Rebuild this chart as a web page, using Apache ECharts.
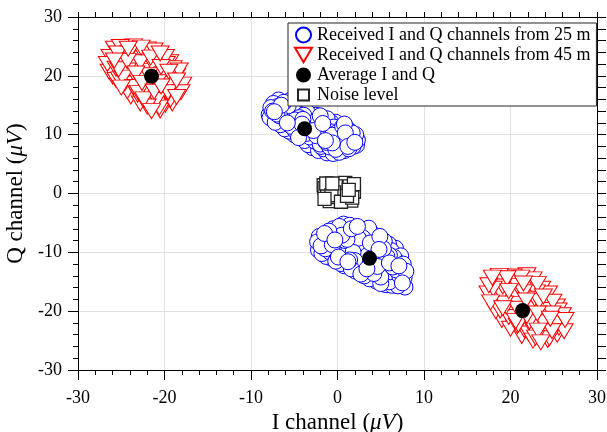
<!DOCTYPE html>
<html>
<head>
<meta charset="utf-8">
<script src="https://cdn.jsdelivr.net/npm/echarts@6/dist/echarts.min.js"></script>
<style>
html,body{margin:0;padding:0;background:#fff;}
#c{width:607px;height:432px;}
</style>
</head>
<body>
<div id="c"></div>
<script>
const seriesNames = [
  'Received I and Q channels from 25 m',
  'Received I and Q channels from 45 m',
  'Average I and Q',
  'Noise level'
];
const axisTicks = [-30, -20, -10, 0, 10, 20, 30];

const blue25Upper = [
[-7.9,13.4],[-7.7,14.6],[-7.8,12.9],[-7.4,15.3],[-7.3,13.9],[-7.2,12.1],[-6.9,14.8],[-6.8,15.9],[-6.7,13.2],[-6.6,11.7],
[-6.4,12.6],[-6.3,14.3],[-6.2,15.5],[-6.1,11.0],[-5.9,13.7],[-5.8,12.0],[-5.7,14.9],[-5.6,10.6],[-5.4,13.1],[-5.3,11.4],
[-5.2,14.4],[-5.1,15.3],[-5.0,10.0],[-4.9,12.5],[-4.8,13.8],[-4.7,11.0],[-4.5,9.5],[-4.4,12.9],[-4.3,14.2],[-4.2,10.4],
[-4.1,11.8],[-3.9,13.3],[-3.8,9.0],[-3.7,12.4],[-3.6,10.2],[-3.5,13.8],[-3.4,8.3],[-3.3,11.5],[-3.2,9.6],[-3.0,12.9],
[-2.9,7.8],[-2.8,10.7],[-2.7,12.1],[-2.6,8.9],[-2.5,13.3],[-2.4,9.8],[-2.3,11.5],[-2.2,7.3],[-2.1,12.7],[-2.0,8.4],
[-1.9,10.6],[-1.8,9.3],[-1.7,11.9],[-1.6,7.6],[-1.5,10.1],[-1.4,12.3],[-1.3,8.7],[-1.2,6.9],[-1.1,11.2],[-1.0,9.6],
[-0.9,7.9],[-0.8,10.5],[-0.7,12.0],[-0.6,8.6],[-0.5,6.8],[-0.4,11.3],[-0.3,9.4],[-0.2,7.5],[-0.1,10.3],[0.0,8.3],
[0.1,11.6],[0.2,7.0],[0.3,9.7],[0.4,10.8],[0.5,8.0],[0.6,11.4],[0.7,9.1],[0.8,7.3],[0.9,10.3],[1.0,8.5],
[1.1,11.0],[1.2,9.6],[1.3,7.6],[1.4,10.6],[1.5,8.3],[1.6,9.2],[1.7,10.3],[1.8,8.0],[1.9,9.5],[2.0,8.7],
[2.1,10.0],[2.3,9.1],[2.2,8.2],
[-7.0,13.5],[-6.0,13.0],[-5.5,12.3],[-4.6,12.0],[-4.0,12.6],[-3.0,11.0],[-2.2,10.0],[-1.4,9.0],[-0.6,9.9],[0.2,9.0],
[1.0,9.9],[-6.5,15.0],[-5.5,15.8],[-4.6,15.0],[-3.8,14.6],[-7.5,14.0],[-4.9,10.7],[-3.9,9.7],[-2.9,9.0],[-1.9,8.0],
[-0.9,7.2],[0.3,7.7],[1.2,8.0],[-2.0,13.2],[-1.2,12.7],[-0.2,12.1],[0.8,11.8]
];

const blue25Lower = [
[-2.3,-8.2],[-2.2,-9.6],[-2.1,-7.3],[-1.9,-8.9],[-1.8,-10.2],[-1.7,-7.8],[-1.5,-6.8],[-1.4,-9.4],[-1.3,-10.7],[-1.2,-8.3],
[-1.0,-6.4],[-0.9,-9.9],[-0.8,-7.5],[-0.7,-11.0],[-0.6,-8.7],[-0.5,-6.0],[-0.4,-10.3],[-0.3,-7.9],[-0.2,-11.5],[-0.1,-9.2],
[0.0,-6.7],[0.1,-10.8],[0.2,-5.6],[0.3,-8.4],[0.4,-11.9],[0.5,-7.1],[0.6,-9.7],[0.7,-5.2],[0.8,-12.3],[0.9,-8.0],
[1.0,-10.6],[1.1,-6.3],[1.2,-11.6],[1.3,-9.0],[1.4,-5.4],[1.5,-7.5],[1.6,-12.8],[1.7,-10.2],[1.8,-8.6],[1.9,-6.4],
[2.0,-11.4],[2.1,-13.2],[2.2,-9.5],[2.3,-5.6],[2.4,-7.6],[2.5,-12.2],[2.6,-10.4],[2.7,-13.7],[2.8,-8.3],[2.9,-6.2],
[3.0,-11.3],[3.1,-14.0],[3.2,-9.4],[3.3,-7.1],[3.4,-12.8],[3.5,-10.5],[3.6,-5.9],[3.7,-14.5],[3.8,-8.4],[3.9,-12.0],
[4.0,-6.8],[4.1,-9.9],[4.2,-13.6],[4.3,-11.1],[4.4,-7.6],[4.5,-14.9],[4.6,-8.9],[4.7,-12.6],[4.8,-10.3],[4.9,-7.3],
[5.0,-15.3],[5.1,-11.8],[5.2,-13.9],[5.3,-9.4],[5.4,-8.1],[5.5,-12.9],[5.6,-15.5],[5.7,-10.7],[5.8,-14.2],[5.9,-8.6],
[6.0,-11.8],[6.1,-13.3],[6.2,-9.7],[6.3,-15.6],[6.4,-12.5],[6.5,-10.8],[6.6,-14.5],[6.7,-9.3],[6.8,-13.0],[6.9,-11.6],
[7.0,-15.7],[7.1,-12.3],[7.2,-14.0],[7.3,-10.6],[7.4,-13.3],[7.5,-15.2],[7.6,-12.0],[7.7,-14.3],[7.8,-15.9],[7.9,-13.2],
[-1.0,-8.5],[0.0,-9.0],[0.9,-9.8],[1.8,-10.0],[2.7,-11.0],[3.6,-11.8],[4.6,-12.4],[5.5,-13.3],[6.5,-14.0],[0.5,-6.3],
[1.6,-6.0],[2.9,-7.5],[4.2,-8.0],[5.6,-9.8],[1.1,-7.8],[2.2,-8.3],[3.3,-9.0],[4.8,-9.5],[6.0,-10.5],[-0.5,-9.3],
[0.4,-10.2],[1.4,-11.3],[2.4,-12.6],[3.2,-13.0],[4.1,-14.2],[5.0,-14.2],[6.0,-15.0],[7.2,-11.4]
];

const red45Upper = [
[-25.8,24.6],[-25.1,24.9],[-24.2,24.6],[-23.6,25.0],[-22.7,24.8],[-22.0,24.5],[-21.2,24.3],[-20.5,23.8],
[-26.3,23.2],[-25.4,23.8],[-24.7,23.1],[-24.1,23.9],[-23.1,23.3],[-22.5,23.7],[-21.6,23.1],[-20.9,23.0],[-19.9,23.2],[-19.4,22.3],
[-26.6,22.0],[-25.8,22.6],[-25.2,21.8],[-24.3,22.5],[-23.7,21.7],[-22.8,22.3],[-22.1,21.6],[-21.4,22.1],[-20.4,21.5],[-19.8,22.0],[-19.0,21.3],
[-26.4,20.7],[-25.6,21.2],[-24.9,20.3],[-24.3,20.9],[-23.3,20.4],[-22.6,20.8],[-21.8,20.1],[-21.1,20.6],[-20.2,20.2],[-19.5,20.7],[-18.6,20.0],[-18.3,20.9],
[-25.6,19.3],[-24.8,19.7],[-24.1,18.9],[-23.2,19.5],[-22.6,18.8],[-21.7,19.4],[-20.8,18.9],[-20.1,19.3],[-19.2,18.6],[-18.6,19.2],[-17.9,18.5],
[-25.0,18.0],[-24.3,17.4],[-23.6,18.1],[-22.9,17.5],[-22.1,18.1],[-21.2,17.3],[-20.5,17.9],[-19.6,17.2],[-18.9,17.8],[-18.1,17.2],
[-23.9,16.5],[-23.1,16.8],[-22.4,16.0],[-21.8,16.6],[-20.9,15.9],[-20.3,16.5],[-19.3,16.0],[-18.6,16.4],
[-22.8,15.3],[-22.0,14.8],[-21.3,15.4],[-20.6,14.6],[-19.9,15.1],[-19.1,15.3],
[-21.5,14.0],[-20.5,14.1],
[-25.3,21.1],[-23.8,20.0],[-22.2,19.6],[-20.4,18.2],[-24.6,18.7],[-23.0,17.1],[-21.4,15.9],[-19.6,17.0],[-26.0,19.9],[-25.2,19.4]
];

const red45Lower = [
[17.9,-14.3],[18.7,-14.0],[19.6,-14.4],[20.3,-14.1],[21.2,-14.3],[21.9,-13.9],[22.6,-14.6],
[17.5,-15.6],[18.4,-15.2],[19.1,-15.8],[19.9,-15.3],[20.8,-15.7],[21.5,-15.3],[22.3,-15.9],[23.1,-15.4],[23.6,-16.2],
[17.4,-17.0],[18.2,-16.5],[19.0,-17.2],[19.8,-16.6],[20.6,-17.3],[21.5,-16.8],[22.2,-17.4],[23.0,-16.8],[23.8,-17.5],[24.4,-17.0],
[17.7,-18.5],[18.6,-18.0],[19.3,-18.7],[20.1,-18.1],[20.9,-18.8],[21.8,-18.2],[22.5,-18.9],[23.3,-18.3],[24.1,-19.0],[24.9,-18.4],[25.3,-19.2],
[18.3,-20.0],[19.1,-19.5],[19.9,-20.2],[20.8,-19.6],[21.5,-20.3],[22.3,-19.7],[23.1,-20.4],[23.9,-19.8],[24.8,-20.4],[25.5,-19.9],[26.0,-20.7],
[19.0,-21.5],[19.8,-21.0],[20.6,-21.7],[21.4,-21.1],[22.2,-21.8],[23.1,-21.2],[23.8,-21.9],[24.6,-21.3],[25.4,-22.0],[26.3,-21.5],
[20.0,-23.0],[20.8,-22.5],[21.6,-23.2],[22.4,-22.6],[23.2,-23.3],[24.0,-22.7],[24.8,-23.4],[25.6,-22.8],[26.2,-23.4],
[21.3,-24.2],[22.1,-23.8],[22.9,-24.5],[23.7,-23.9],[24.5,-24.6],[25.4,-24.0],
[22.6,-25.0],[23.5,-25.3],[24.3,-24.9],
[18.0,-16.2],[20.2,-16.3],[22.8,-17.9],[24.3,-19.6],[19.5,-19.2],[21.9,-20.8],[23.4,-22.4],[20.9,-22.3],[25.0,-21.0],[18.8,-19.9]
];

const averageIQ = [[-21.5,19.95],[-3.8,11.0],[3.7,-11.0],[21.4,-19.9]];

const noiseLevel = [
[-1.6,1.4],[-1.5,-0.9],[-1.2,0.4],[-0.9,-1.3],[-0.6,1.7],[-0.4,0.2],[-0.1,-0.6],[0.2,1.5],[0.4,-1.4],[0.6,0.5],
[0.9,1.8],[1.1,-0.4],[1.4,1.2],[1.6,-1.2],[1.9,0.3],[1.9,1.6],[-1.3,1.7],[0.1,0.9],[1.3,0.6],[-0.7,-0.3],
[-1.5,0.9],[0.3,-0.9],[1.7,-0.7],[-0.2,1.2],[0.8,-1.0]
];

// Deterministic interleaving of drawing order (values unchanged), so overlaps look like the original
function gcd(a, b) { return b ? gcd(b, a % b) : a; }
function interleave(arr, step) {
  const n = arr.length;
  while (gcd(step, n) !== 1) step++;
  const out = [];
  for (let i = 0; i < n; i++) out.push(arr[(i * step) % n]);
  return out;
}

const FONT = '"Liberation Serif", "Times New Roman", serif';
const downTri = 'path://M0,0L20,0L10,17Z';
const squareIcon = 'path://M0,0M17,15M3,2h11v11h-11z';

function boxAxis(pos, isMain) {
  return {
    type: 'value', position: pos, min: -30, max: 30, interval: 10,
    axisLine: { show: true, onZero: false, lineStyle: { color: '#000', width: 1 } },
    axisTick: { show: true, inside: false, length: isMain ? 10 : (pos === 'right' ? 9 : 5), lineStyle: { color: '#000', width: 1 } },
    minorTick: { show: true, splitNumber: 5, length: (pos === 'right' ? 9 : 5), lineStyle: { color: '#000', width: 1 } },
    splitLine: { show: isMain, lineStyle: { color: '#e2e2e2', width: 1 } },
    minorSplitLine: { show: false },
    axisLabel: { show: isMain, color: '#000', fontFamily: FONT, fontSize: 18,
      formatter: function (v) { return axisTicks.indexOf(v) >= 0 ? String(v) : ''; } }
  };
}

const titleRich = {
  a: { fontFamily: FONT, fontSize: 23, color: '#000' },
  b: { fontFamily: FONT, fontSize: 23, fontStyle: 'italic', color: '#000' }
};

const xMain = boxAxis('bottom', true);
xMain.axisLabel.margin = 19;
xMain.name = '{a|I channel (}{b|μV}{a|)}';
xMain.nameLocation = 'middle';
xMain.nameGap = 31;
xMain.nameTextStyle = { rich: titleRich };

const yMain = boxAxis('left', true);
yMain.axisLabel.margin = 16;
yMain.name = '{a|Q channel (}{b|μV}{a|)}';
yMain.nameLocation = 'middle';
yMain.nameGap = 39;
yMain.nameTextStyle = { rich: titleRich };

const chart = echarts.init(document.getElementById('c'), null, { renderer: 'canvas' });
chart.setOption({
  animation: false,
  backgroundColor: '#fff',
  grid: { left: 78, right: 10, top: 17, bottom: 62, containLabel: false, outerBoundsMode: 'none' },
  xAxis: [xMain, boxAxis('top', false)],
  yAxis: [yMain, boxAxis('right', false)],
  legend: {
    orient: 'vertical', left: 288, top: 23,
    padding: [3, 6, 2, 6], itemGap: 2, itemWidth: 17, itemHeight: 15,
    backgroundColor: '#fff', borderColor: '#222', borderWidth: 1, borderRadius: 0,
    textStyle: { fontFamily: FONT, fontSize: 18, color: '#000' },
    data: [
      { name: seriesNames[0], icon: 'circle' },
      { name: seriesNames[1], icon: downTri },
      { name: seriesNames[2], icon: 'circle' },
      { name: seriesNames[3], icon: squareIcon }
    ]
  },
  series: [
    { name: seriesNames[0], type: 'scatter', symbol: 'circle', symbolSize: 16, z: 2,
      itemStyle: { color: '#fff', borderColor: '#0000ff', borderWidth: 1, opacity: 1 },
      data: interleave(blue25Upper.concat(blue25Lower), 37) },
    { name: seriesNames[1], type: 'scatter', symbol: downTri, symbolSize: [18, 15], z: 2,
      itemStyle: { color: '#fff', borderColor: '#ff0000', borderWidth: 1, opacity: 1 },
      data: interleave(red45Upper.concat(red45Lower), 29) },
    { name: seriesNames[2], type: 'scatter', symbol: 'circle', symbolSize: 15, z: 4,
      itemStyle: { color: '#000', borderColor: '#000', borderWidth: 0, opacity: 1 },
      data: averageIQ },
    { name: seriesNames[3], type: 'scatter', symbol: 'rect', symbolSize: 13, z: 3,
      itemStyle: { color: '#fff', borderColor: '#222', borderWidth: 1.3, opacity: 1 },
      data: interleave(noiseLevel, 7) }
  ]
});
</script>
</body>
</html>
